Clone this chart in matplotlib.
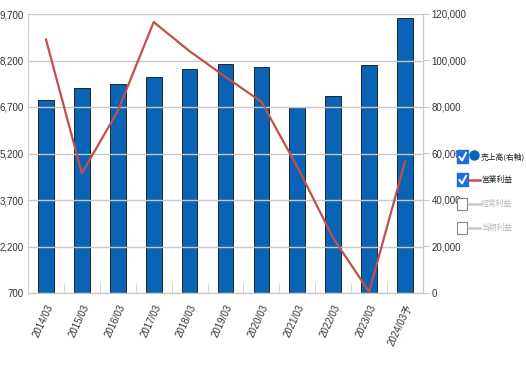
import matplotlib.pyplot as plt
import numpy as np
from matplotlib.patches import Rectangle
from matplotlib.lines import Line2D

plt.rcParams['font.family'] = ['Noto Sans CJK JP', 'DejaVu Sans']

# Data
periods = ['2014/03', '2015/03', '2016/03', '2017/03', '2018/03', '2019/03',
           '2020/03', '2021/03', '2022/03', '2023/03', '2024/03予']
sales = [83000, 88200, 89900, 92900, 96300, 98600, 97300, 80000, 84600, 97900, 118400]   # 売上高 (right axis)
op_profit = [8880, 4560, 6570, 9440, 8500, 7670, 6870, 4770, 2470, 740, 4940]          # 営業利益 (left axis)

left_ticks = [700, 2200, 3700, 5200, 6700, 8200, 9700]
right_ticks = [0, 20000, 40000, 60000, 80000, 100000, 120000]

fig = plt.figure(figsize=(5.26, 3.72), dpi=100)
ax = fig.add_axes([28 / 526, 1 - 293 / 372, 395 / 526, 279 / 372])
ax2 = ax.twinx()

x = np.arange(len(periods))

# bars on the right axis
ax2.bar(x, sales, width=0.44, color='#0a63b4', edgecolor='#111111', linewidth=0.6, zorder=2)
ax2.set_ylim(0, 120000)
ax2.set_yticks(right_ticks)
ax2.set_yticklabels([f'{v:,}' for v in right_ticks], family='Liberation Sans')

# line on the left axis, drawn above the bars
ax.plot(x, op_profit, color='#c0504d', linewidth=1.6, zorder=3)
ax.set_ylim(700, 9700)
ax.set_yticks(left_ticks)
ax.set_yticklabels([f'{v:,}' for v in left_ticks], family='Liberation Sans')
ax.set_zorder(ax2.get_zorder() + 1)
ax.patch.set_visible(False)
ax.set_xlim(-0.5, len(periods) - 0.5)

ax.grid(axis='y', color='#c8c8c8', linewidth=1.0)
ax2.grid(False)
ax.set_axisbelow(True)

ax.set_xticks(x)
ax.set_xticklabels(periods, rotation=65, ha='right', rotation_mode='anchor', fontsize=7, color='#333333',
                   family=['Liberation Sans', 'Noto Sans CJK JP'])
ax.tick_params(axis='x', length=0, pad=7)
ax.set_xticks(np.arange(0.5, len(periods) - 1, 1), minor=True)
ax.tick_params(axis='x', which='minor', direction='in', length=7, color='#d0d0d0')
ax.tick_params(axis='y', length=0, labelsize=7, labelcolor='#333333', pad=3)
ax2.tick_params(axis='y', length=4, labelsize=7, labelcolor='#333333', color='#c8c8c8', pad=2)

for a in (ax, ax2):
    a.spines['top'].set_visible(False)
    a.spines['left'].set_color('#d0d0d0')
    a.spines['right'].set_color('#c8c8c8')
    a.spines['bottom'].set_color('#c8c8c8')

# legend with checkboxes, placed in figure pixels
W, H = 526, 372
legend_items = [
    ('売上高(右軸)', 'circle', True),
    ('営業利益', 'red', True),
    ('経常利益', 'gray', False),
    ('当期利益', 'gray', False),
]
rows_y = [157, 180, 204, 228]
for (label, kind, checked), yy in zip(legend_items, rows_y):
    fy = 1 - yy / H
    if checked:
        fig.add_artist(Rectangle((457 / W, fy - 6 / H), 11 / W, 13 / H,
                                 transform=fig.transFigure, facecolor='#1e6fd9', edgecolor='#1e6fd9'))
        fig.add_artist(Line2D([459.5 / W, 462 / W, 466 / W], [fy, fy - 3.5 / H, fy + 4 / H],
                              color='white', linewidth=1.4, transform=fig.transFigure))
    else:
        fig.add_artist(Rectangle((457 / W, fy - 6 / H), 10 / W, 12 / H,
                                 transform=fig.transFigure, facecolor='white', edgecolor='#888888', linewidth=0.8))
    if kind == 'circle':
        fig.add_artist(Line2D([474 / W], [fy + 2 / H], marker='o', markersize=6.5, color='#0a63b4',
                              transform=fig.transFigure))
        tcolor = '#222222'
    elif kind == 'red':
        fig.add_artist(Line2D([469 / W, 480 / W], [fy, fy], color='#c0504d', linewidth=1.8,
                              transform=fig.transFigure))
        tcolor = '#222222'
    else:
        fig.add_artist(Line2D([469 / W, 480 / W], [fy, fy], color='#c8c8c8', linewidth=1.8,
                              transform=fig.transFigure))
        tcolor = '#b8b8b8'
    fig.text(481 / W, fy, label, color=tcolor, fontsize=5.6, ha='left', va='center')

fig.savefig('out.png', dpi=100)
